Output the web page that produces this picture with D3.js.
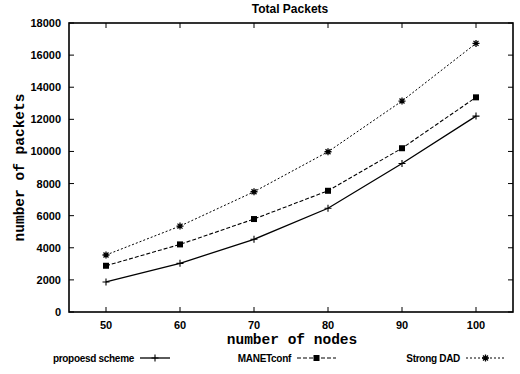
<!DOCTYPE html>
<html>
<head>
<meta charset="utf-8">
<script src="https://cdn.jsdelivr.net/npm/d3@7"></script>
<style>
  body { margin: 0; background: #fff; }
  text { fill: #000; }
  .tick-label { font-family: "Liberation Sans", Arial, sans-serif; font-size: 11px; font-weight: bold; }
  .mono { font-family: "Liberation Mono", "Courier New", monospace; font-size: 14.5px; font-weight: bold; }
</style>
</head>
<body>
<div id="chart"></div>
<script>
// number of nodes on the x axis
const nodes = [50, 60, 70, 80, 90, 100];

// total packets per scheme
const proposed = [1870, 3030, 4530, 6460, 9250, 12200];
const manetconf = [2880, 4210, 5790, 7550, 10200, 13370];
const strongDad = [3550, 5350, 7490, 9980, 13140, 16730];

const xTicks = [50, 60, 70, 80, 90, 100];
const yTicks = [0, 2000, 4000, 6000, 8000, 10000, 12000, 14000, 16000, 18000];

const seriesNames = ['propoesd scheme', 'MANETconf', 'Strong DAD'];

const W = 520, H = 374;
const margin = { top: 23, right: 7, bottom: 62, left: 69 };
const width = W - margin.left - margin.right;
const height = H - margin.top - margin.bottom;

const svg = d3.select('#chart')
  .append('svg')
  .attr('width', W)
  .attr('height', H);

const g = svg.append('g')
  .attr('transform', `translate(${margin.left}, ${margin.top})`);

const x = d3.scaleLinear().domain([45, 105]).range([0, width]);
const y = d3.scaleLinear().domain([0, 18000]).range([height, 0]);

// frame
g.append('rect')
  .attr('width', width)
  .attr('height', height)
  .attr('fill', 'none')
  .attr('stroke', '#000')
  .attr('stroke-width', 1.6);

// ticks pointing inward on all four sides
const tickLen = 5;
xTicks.forEach((t) => {
  g.append('line').attr('x1', x(t)).attr('x2', x(t)).attr('y1', height).attr('y2', height - tickLen).attr('stroke', '#000');
  g.append('line').attr('x1', x(t)).attr('x2', x(t)).attr('y1', 0).attr('y2', tickLen).attr('stroke', '#000');
  g.append('text')
    .attr('class', 'tick-label')
    .attr('x', x(t))
    .attr('y', height + 17)
    .attr('text-anchor', 'middle')
    .text(t);
});
yTicks.forEach((t) => {
  g.append('line').attr('x1', 0).attr('x2', tickLen).attr('y1', y(t)).attr('y2', y(t)).attr('stroke', '#000');
  g.append('line').attr('x1', width).attr('x2', width - tickLen).attr('y1', y(t)).attr('y2', y(t)).attr('stroke', '#000');
  g.append('text')
    .attr('class', 'tick-label')
    .attr('x', -8)
    .attr('y', y(t) + 4)
    .attr('text-anchor', 'end')
    .text(t);
});

// title and axis labels
svg.append('text')
  .attr('x', 290)
  .attr('y', 13)
  .attr('text-anchor', 'middle')
  .style('font-family', '"Liberation Sans", Arial, sans-serif')
  .style('font-size', '12px')
  .style('font-weight', 'bold')
  .text('Total Packets');

svg.append('text')
  .attr('class', 'mono')
  .attr('x', 292)
  .attr('y', 344)
  .attr('text-anchor', 'middle')
  .text('number of nodes');

svg.append('text')
  .attr('class', 'mono')
  .attr('transform', `translate(24, ${margin.top + height / 2}) rotate(-90)`)
  .attr('text-anchor', 'middle')
  .text('number of packets');

// markers
const drawPlus = (sel, cx, cy) => {
  sel.append('path')
    .attr('d', `M${cx - 3.5},${cy}H${cx + 3.5}M${cx},${cy - 3.5}V${cy + 3.5}`)
    .attr('stroke', '#000').attr('stroke-width', 1.1);
};
const drawSquare = (sel, cx, cy) => {
  sel.append('rect')
    .attr('x', cx - 3).attr('y', cy - 3)
    .attr('width', 6).attr('height', 6)
    .attr('fill', '#000');
};
const drawStar = (sel, cx, cy) => {
  sel.append('path')
    .attr('d', `M${cx - 3.5},${cy}H${cx + 3.5}M${cx},${cy - 3.5}V${cy + 3.5}M${cx - 2.5},${cy - 2.5}L${cx + 2.5},${cy + 2.5}M${cx - 2.5},${cy + 2.5}L${cx + 2.5},${cy - 2.5}`)
    .attr('stroke', '#000').attr('stroke-width', 1.3);
};

const series = [
  { name: seriesNames[0], values: proposed, dash: null, width: 1.3, marker: drawPlus },
  { name: seriesNames[1], values: manetconf, dash: '4,2', width: 1.1, marker: drawSquare },
  { name: seriesNames[2], values: strongDad, dash: '2,2', width: 1, marker: drawStar },
];

const line = d3.line()
  .x(d => x(d[0]))
  .y(d => y(d[1]));

series.forEach((s) => {
  const pts = nodes.map((n, i) => [n, s.values[i]]);
  g.append('path')
    .attr('d', line(pts))
    .attr('fill', 'none')
    .attr('stroke', '#000')
    .attr('stroke-width', s.width)
    .attr('stroke-dasharray', s.dash);
  pts.forEach(p => s.marker(g, x(p[0]), y(p[1])));
});

// legend along the bottom
const legendPos = [
  { textX: 134, lineX1: 140, lineX2: 170 },
  { textX: 291, lineX1: 297, lineX2: 336 },
  { textX: 460, lineX1: 466, lineX2: 505 },
];
const ly = 358;
series.forEach((s, i) => {
  const p = legendPos[i];
  svg.append('text')
    .attr('x', p.textX)
    .attr('y', ly + 4)
    .attr('text-anchor', 'end')
    .style('font-family', '"Liberation Sans", Arial, sans-serif')
    .style('font-size', '10px')
    .style('font-weight', 'bold')
    .style('letter-spacing', '-0.3px')
    .text(s.name);
  svg.append('line')
    .attr('x1', p.lineX1).attr('x2', p.lineX2)
    .attr('y1', ly).attr('y2', ly)
    .attr('stroke', '#000')
    .attr('stroke-width', s.width)
    .attr('stroke-dasharray', s.dash);
  s.marker(svg, (p.lineX1 + p.lineX2) / 2, ly);
});
</script>
</body>
</html>
